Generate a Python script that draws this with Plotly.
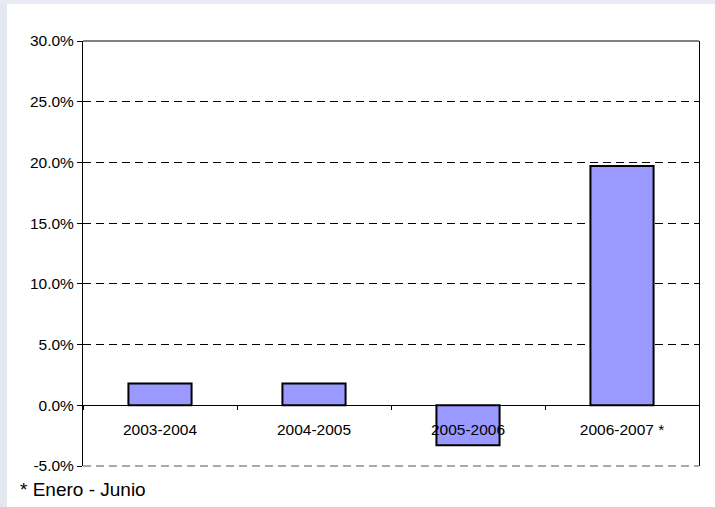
import plotly.graph_objects as go

periods = ["2003-2004", "2004-2005", "2005-2006", "2006-2007 *"]
growth = [0.018, 0.018, -0.033, 0.197]
y_ticks = [-0.05, 0.0, 0.05, 0.10, 0.15, 0.20, 0.25, 0.30]
y_ticktext = [f"{v * 100:.1f}%" for v in y_ticks]

W, H = 715, 507
ML, MR, MT, MB = 83, 16, 41, 41
plot_w = W - ML - MR
plot_h = H - MT - MB
y_min, y_max = -0.05, 0.30

fig = go.Figure()
fig.add_trace(
    go.Bar(
        x=periods,
        y=growth,
        width=0.41,
        marker=dict(color="#9999ff", line=dict(color="#000000", width=2)),
        hoverinfo="x+y",
    )
)

fig.update_layout(
    width=W,
    height=H,
    margin=dict(l=ML, r=MR, t=MT, b=MB, pad=0),
    paper_bgcolor="#ffffff",
    plot_bgcolor="#ffffff",
    font=dict(family="Liberation Sans, Arial, sans-serif", color="#000000", size=15),
    showlegend=False,
    xaxis=dict(
        anchor="free",
        position=(0 - y_min) / (y_max - y_min),
        showline=True,
        linecolor="#000000",
        linewidth=1,
        ticks="outside",
        tickson="boundaries",
        ticklen=4,
        tickcolor="#000000",
        showgrid=False,
        ticklabelstandoff=10,
        tickfont=dict(size=15.5),
    ),
    yaxis=dict(
        range=[y_min, y_max],
        tickvals=y_ticks,
        ticktext=y_ticktext,
        showline=True,
        mirror=True,
        linecolor="#000000",
        linewidth=1,
        ticks="outside",
        ticklen=5,
        tickcolor="#000000",
        showgrid=True,
        gridcolor="#000000",
        gridwidth=1,
        griddash="8px,5px",
        zeroline=False,
        tickfont=dict(size=15.5),
    ),
)

# top border of the plot box and dashed bottom edge
fig.add_shape(type="line", xref="paper", yref="paper", x0=0, x1=1, y0=1, y1=1,
              line=dict(color="#000000", width=1), layer="above")
fig.add_shape(type="line", xref="paper", yref="paper", x0=0, x1=1, y0=0, y1=0,
              line=dict(color="#555555", width=1, dash="8px,5px"), layer="above")

# light slide background strips
fig.add_shape(type="rect", xref="paper", yref="paper",
              x0=-ML / plot_w, x1=(7 - ML) / plot_w, y0=-MB / plot_h, y1=1 + MT / plot_h,
              fillcolor="#e4e7f0", line=dict(width=0), layer="below")
fig.add_shape(type="rect", xref="paper", yref="paper",
              x0=-ML / plot_w, x1=1 + MR / plot_w, y0=1 + (MT - 4) / plot_h, y1=1 + MT / plot_h,
              fillcolor="#e8ebf3", line=dict(width=0), layer="below")

fig.add_annotation(
    text="* Enero - Junio",
    xref="paper", yref="paper",
    x=(18 - ML) / plot_w, y=-(489 - (H - MB)) / plot_h,
    xanchor="left", yanchor="middle",
    showarrow=False,
    font=dict(size=19, color="#000000"),
)

fig.write_html("out.html", config={"displayModeBar": False},
               post_script="document.body.style.margin='0';")
